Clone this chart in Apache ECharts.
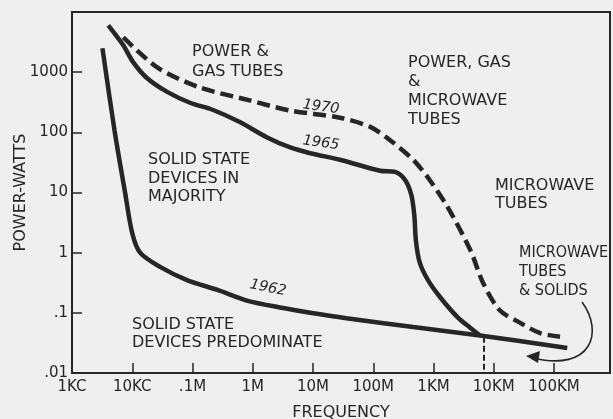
<!DOCTYPE html>
<html>
<head>
<meta charset="utf-8">
<script src="https://cdn.jsdelivr.net/npm/echarts@6/dist/echarts.min.js"></script>
<style>
  html, body { margin: 0; padding: 0; background: #efefef; }
  #chart { width: 613px; height: 419px; }
</style>
</head>
<body>
<div id="chart"></div>
<script>
// Frequency in Hz, power in watts
const freqTickLabels = ['1KC', '10KC', '.1M', '1M', '10M', '100M', '1KM', '10KM', '100KM'];
const powerTickLabels = ['.01', '.1', '1', '10', '100', '1000'];

const freq1962 = [3200, 5100, 7600, 10000, 13500, 29000, 81000, 2.6e5, 8e5, 3.2e6, 9e6, 3.6e7, 4.6e8, 5.9e9, 1.66e11];
const power1962 = [2500, 105, 10, 2.1, 1.0, 0.58, 0.35, 0.24, 0.16, 0.12, 0.10, 0.081, 0.058, 0.042, 0.026];

const freq1965 = [4000, 7100, 10200, 17500, 38000, 91000, 2.2e5, 6.1e5, 1.7e6, 4.2e6, 9e6, 2.8e7, 1.3e8, 2.3e8, 3.4e8, 4.3e8, 4.8e8, 5.1e8, 5.9e8, 8.1e8, 1.3e9, 2.5e9, 4.1e9, 5.9e9];
const power1965 = [6000, 2800, 1500, 800, 470, 310, 235, 148, 83, 56, 45, 35, 23, 22, 16, 9, 4.2, 1.6, 0.69, 0.35, 0.18, 0.085, 0.056, 0.042];

const freq1970 = [7100, 26000, 1.3e5, 8.9e5, 4.2e6, 2.8e7, 8.9e7, 1.9e8, 4.6e8, 8.7e8, 1.7e9, 4.1e9, 6.6e9, 1.26e10, 2.75e10, 5.9e10, 1.26e11];
const power1970 = [3800, 1200, 560, 340, 230, 175, 123, 74, 35, 16, 5.8, 1.1, 0.32, 0.11, 0.068, 0.046, 0.04];

// where the 1965 limit runs into the 1962 limit
const junctionFreq = 6.9e9;
const junctionPower = 0.04;

const ink = '#262626';
const font = 'DejaVu Sans';

function pairs(xs, ys) { return xs.map((x, i) => [x, ys[i]]); }
function expOf(v) { return Math.log10(v); }
function isDecade(v) { return Math.abs(expOf(v) - Math.round(expOf(v))) < 1e-6; }

const chart = echarts.init(document.getElementById('chart'), null, { renderer: 'canvas' });

const lineBase = {
  type: 'line', showSymbol: false, smooth: 0.3, silent: true,
  lineStyle: { color: ink, width: 4.5, cap: 'butt' }
};

function note(text, left, top, lh, family) {
  return {
    type: 'text', x: left, y: top, silent: true,
    style: { text: text, font: '16px "' + (family || font) + '"', fill: ink, textAlign: 'left', textVerticalAlign: 'top', lineHeight: lh }
  };
}
function year(text, cx, cy, rot) {
  return {
    type: 'text', x: cx, y: cy, rotation: rot, silent: true,
    style: { text: text, font: 'italic 14.5px "' + font + '"', fill: ink, textAlign: 'center', textVerticalAlign: 'middle' }
  };
}

chart.setOption({
  backgroundColor: '#efefef',
  animation: false,
  grid: {
    left: 72, top: 12, right: 3, bottom: 46, show: true,
    borderColor: ink, borderWidth: 2, backgroundColor: 'transparent',
    containLabel: false, outerBoundsMode: 'none'
  },
  xAxis: {
    type: 'log', logBase: 10, min: 1e3, max: 8.5e11,
    name: 'FREQUENCY', nameLocation: 'middle', nameGap: 32, nameMoveOverlap: false,
    nameTextStyle: { fontFamily: font, fontSize: 16, color: ink },
    axisLine: { show: true, lineStyle: { color: ink, width: 2 } },
    axisTick: { show: true, inside: true, length: 10, lineStyle: { color: ink, width: 1.5 } },
    axisLabel: {
      fontFamily: font, fontSize: 15, color: ink, margin: 7, showMaxLabel: true,
      formatter: v => isDecade(v) ? (freqTickLabels[Math.round(expOf(v)) - 3] || '') : ''
    },
    splitLine: { show: false }, minorTick: { show: false }
  },
  yAxis: {
    type: 'log', logBase: 10, min: 0.01, max: 1e4,
    name: 'POWER-WATTS', nameLocation: 'middle', nameGap: 43, nameRotate: 90, nameMoveOverlap: false,
    nameTextStyle: { fontFamily: font, fontSize: 16, color: ink },
    axisLine: { show: true, lineStyle: { color: ink, width: 2 } },
    axisTick: { show: true, inside: true, length: 10, lineStyle: { color: ink, width: 1.5 } },
    axisLabel: {
      fontFamily: font, fontSize: 15, color: ink, margin: 4,
      formatter: v => isDecade(v) ? (powerTickLabels[Math.round(expOf(v)) + 2] || '') : ''
    },
    splitLine: { show: false }, minorTick: { show: false }
  },
  series: [
    Object.assign({}, lineBase, {
      name: '1970', z: 2, data: pairs(freq1970, power1970),
      lineStyle: { color: ink, width: 4.5, type: [13, 6], cap: 'butt' }
    }),
    Object.assign({}, lineBase, { name: '1965', z: 3, data: pairs(freq1965, power1965) }),
    Object.assign({}, lineBase, {
      name: '1962', z: 3, data: pairs(freq1962, power1962),
      markLine: {
        silent: true, symbol: 'none', label: { show: false },
        lineStyle: { color: ink, width: 2, type: [6, 3] },
        data: [[{ coord: [junctionFreq, junctionPower] }, { coord: [junctionFreq, 0.01] }]]
      }
    })
  ],
  graphic: [
    note('POWER &\nGAS TUBES', 192, 42, 20),
    note('POWER, GAS\n&\nMICROWAVE\nTUBES', 408, 53, 19),
    note('MICROWAVE\nTUBES', 495, 177, 18),
    note('SOLID STATE\nDEVICES IN\nMAJORITY', 148, 151, 18.5),
    note('SOLID STATE\nDEVICES PREDOMINATE', 132, 316, 18),
    note('MICROWAVE\nTUBES\n& SOLIDS', 519, 243, 19, 'DejaVu Sans Condensed'),
    year('1970', 321, 107, -0.14),
    year('1965', 321, 143, -0.14),
    year('1962', 268, 288, -0.2),
    {
      type: 'bezierCurve', silent: true,
      shape: { x1: 582, y1: 302, cpx1: 604, cpy1: 332, cpx2: 592, cpy2: 372, x2: 533, y2: 358 },
      style: { stroke: ink, lineWidth: 1.6, fill: null }
    },
    {
      type: 'polygon', silent: true,
      shape: { points: [[526, 356], [540, 351], [538, 363]] },
      style: { fill: ink }
    }
  ]
});
</script>
</body>
</html>
